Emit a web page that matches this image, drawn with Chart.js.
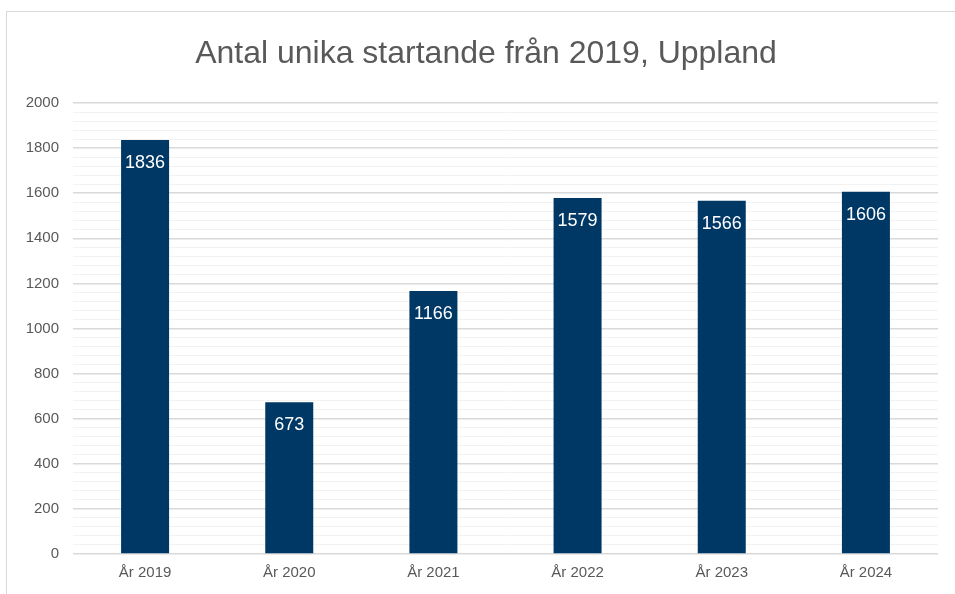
<!DOCTYPE html>
<html>
<head>
<meta charset="utf-8">
<script src="https://cdn.jsdelivr.net/npm/chart.js@4/dist/chart.umd.min.js"></script>
<style>
  body { margin: 0; background: #fff; }
  #wrap { position: relative; width: 955px; height: 594px; overflow: hidden; }
  #frame { position: absolute; left: 6px; top: 11px; width: 980px; height: 620px; border: 1px solid #d9d9d9; box-sizing: border-box; }
  canvas { position: absolute; left: 0; top: 0; }
</style>
</head>
<body>
<div id="wrap">
  <div id="frame"></div>
  <canvas id="myChart" width="955" height="594"></canvas>
</div>
<script>
// data
const years = ['År 2019', 'År 2020', 'År 2021', 'År 2022', 'År 2023', 'År 2024']
const startande = [1836, 673, 1166, 1579, 1566, 1606]

const titel = 'Antal unika startande från 2019, Uppland'

const font = '"Liberation Sans", Arial, sans-serif'

/**
 * Siffrorna skrivs i vitt inne i staplarna, nära toppen.
 */
const barLabels = {
  id: 'barLabels',
  afterDatasetsDraw(chart) {
    const ctx = chart.ctx
    const meta = chart.getDatasetMeta(0)
    ctx.save()
    ctx.fillStyle = '#ffffff'
    ctx.font = '18px ' + font
    ctx.textAlign = 'center'
    ctx.textBaseline = 'middle'
    meta.data.forEach((bar, i) => {
      ctx.fillText(String(startande[i]), bar.x, bar.y + 23)
    })
    ctx.restore()
  },
}

/**
 * Rubriken centreras över ramen, inte över canvasen.
 */
const chartTitle = {
  id: 'chartTitle',
  afterDraw(chart) {
    const ctx = chart.ctx
    ctx.save()
    ctx.fillStyle = '#595959'
    ctx.font = '32px ' + font
    ctx.textAlign = 'center'
    ctx.textBaseline = 'middle'
    ctx.fillText(titel, 486, 54)
    ctx.restore()
  },
}

const chart = new Chart(document.querySelector('#myChart'), {
  type: 'bar',
  data: {
    labels: years,
    datasets: [
      {
        data: startande,
        backgroundColor: '#003865',
        barPercentage: 0.333,
        categoryPercentage: 1,
      },
    ],
  },
  options: {
    responsive: false,
    animation: false,
    layout: { padding: { left: 0, right: 17, top: 103, bottom: 2 } },
    plugins: {
      legend: { display: false },
      tooltip: { enabled: false },
      title: { display: false },
    },
    scales: {
      x: {
        grid: { display: false, drawTicks: false },
        border: { display: false },
        ticks: { color: '#595959', font: { family: font, size: 15 }, padding: 10 },
      },
      y: {
        min: 0,
        max: 2000,
        afterFit(scale) { scale.width = 73 },
        border: { display: false },
        grid: {
          drawTicks: false,
          color: (c) => (c.tick && c.tick.value % 200 === 0 ? '#d9d9d9' : '#f2f2f2'),
          lineWidth: (c) => (c.tick && c.tick.value % 200 === 0 ? 1.5 : 1),
        },
        ticks: {
          stepSize: 40,
          autoSkip: false,
          padding: 14,
          color: '#595959',
          font: { family: font, size: 15 },
          callback: (v) => (v % 200 === 0 ? v : ''),
        },
      },
    },
  },
  plugins: [barLabels, chartTitle],
})
</script>
</body>
</html>
